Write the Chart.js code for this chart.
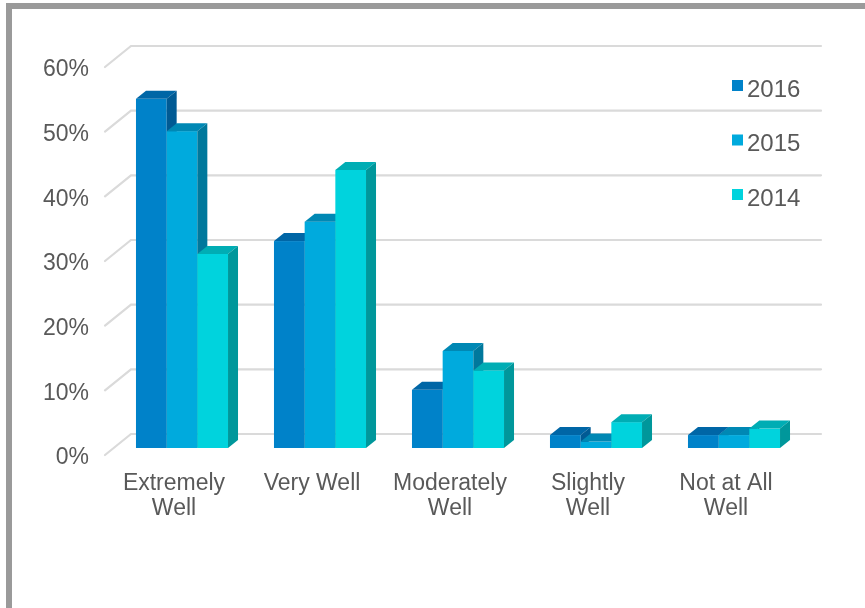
<!DOCTYPE html>
<html>
<head>
<meta charset="utf-8">
<script src="https://cdn.jsdelivr.net/npm/chart.js@4"></script>
<style>
  html, body { margin: 0; padding: 0; background: #fff; }
  #wrap { position: relative; width: 865px; height: 608px; overflow: hidden; }
  #frame {
    position: absolute; left: 6px; top: 3px;
    width: 900px; height: 700px;
    border: 6px solid #9a9a9a; box-sizing: border-box;
  }
  #chart { position: absolute; left: 0; top: 0; }
</style>
</head>
<body>
<div id="wrap">
  <div id="frame"></div>
  <canvas id="chart" width="865" height="608"></canvas>
</div>
<script>
// categorias e séries (percentual)
const categorias = [['Extremely', 'Well'], 'Very Well', ['Moderately', 'Well'], ['Slightly', 'Well'], ['Not at All', 'Well']];
const anos = ['2016', '2015', '2014'];
const valores2016 = [54, 32, 9, 2, 2];
const valores2015 = [49, 35, 15, 1, 2];
const valores2014 = [30, 43, 12, 4, 3];
const ticksY = [0, 10, 20, 30, 40, 50, 60];

// cores: frente, topo, lateral
const cores = [
    { frente: '#0082c9', topo: '#0066a6', lado: '#005a94' },
    { frente: '#00aadd', topo: '#0088b4', lado: '#00789c' },
    { frente: '#00d3dd', topo: '#00adb4', lado: '#00979b' }
];

const fonte = "'Liberation Sans', Arial, sans-serif";
const corTexto = '#595959';

// profundidade do "piso" (parede do fundo) e das barras
const PAREDE = { dx: 26, dy: -21 };
const FRENTE = { dx: 8, dy: -7 };
const BARRA = { dx: 10, dy: -8 };

const plugin3d = {
    id: 'barras3d',
    beforeDatasetsDraw(chart) {
        const ctx = chart.ctx;
        const area = chart.chartArea;
        const y = chart.scales.y;

        // linhas de grade com a diagonal lateral
        ctx.save();
        ctx.strokeStyle = '#dadada';
        ctx.lineWidth = 2.2;
        ctx.lineCap = 'round';
        ticksY.forEach(v => {
            const py = y.getPixelForValue(v);
            ctx.beginPath();
            ctx.moveTo(area.left, py);
            ctx.lineTo(area.left + PAREDE.dx, py + PAREDE.dy);
            ctx.lineTo(area.right + PAREDE.dx, py + PAREDE.dy);
            ctx.stroke();
        });
        ctx.restore();

        // barras: desenhadas por categoria, da esquerda para a direita
        const metas = chart.data.datasets.map((d, i) => chart.getDatasetMeta(i));
        ctx.save();
        for (let c = 0; c < categorias.length; c++) {
            metas.forEach((meta, i) => {
                const el = meta.data[c];
                const x0 = el.x - el.width / 2 + FRENTE.dx;
                const x1 = el.x + el.width / 2 + FRENTE.dx;
                const yt = el.y + FRENTE.dy;
                const yb = el.base + FRENTE.dy;
                const cor = cores[i];

                ctx.fillStyle = cor.frente;
                ctx.fillRect(x0, yt, x1 - x0, yb - yt);

                ctx.fillStyle = cor.topo;
                ctx.beginPath();
                ctx.moveTo(x0, yt);
                ctx.lineTo(x1, yt);
                ctx.lineTo(x1 + BARRA.dx, yt + BARRA.dy);
                ctx.lineTo(x0 + BARRA.dx, yt + BARRA.dy);
                ctx.closePath();
                ctx.fill();

                ctx.fillStyle = cor.lado;
                ctx.beginPath();
                ctx.moveTo(x1, yt);
                ctx.lineTo(x1 + BARRA.dx, yt + BARRA.dy);
                ctx.lineTo(x1 + BARRA.dx, yb + BARRA.dy);
                ctx.lineTo(x1, yb);
                ctx.closePath();
                ctx.fill();
            });
        }
        ctx.restore();
        return false;
    },
    afterDraw(chart) {
        // legenda no canto superior direito
        const ctx = chart.ctx;
        ctx.save();
        ctx.font = '24px ' + fonte;
        ctx.textBaseline = 'middle';
        ctx.textAlign = 'left';
        chart.data.datasets.forEach((d, i) => {
            const topo = 80 + i * 54.5;
            ctx.fillStyle = cores[i].frente;
            ctx.fillRect(732, topo, 11, 11);
            ctx.fillStyle = corTexto;
            ctx.fillText(d.label, 747, topo + 10);
        });
        ctx.restore();
    }
};

new Chart(document.getElementById('chart'), {
    type: 'bar',
    data: {
        labels: categorias,
        datasets: [
            { label: anos[0], data: valores2016, backgroundColor: cores[0].frente },
            { label: anos[1], data: valores2015, backgroundColor: cores[1].frente },
            { label: anos[2], data: valores2014, backgroundColor: cores[2].frente }
        ]
    },
    options: {
        responsive: false,
        animation: false,
        layout: { padding: { top: 67, right: 70, left: 0, bottom: 0 } },
        plugins: {
            legend: { display: false },
            tooltip: { enabled: false }
        },
        datasets: {
            bar: { categoryPercentage: 0.667, barPercentage: 1 }
        },
        scales: {
            x: {
                grid: { display: false },
                border: { display: false },
                ticks: {
                    color: corTexto,
                    font: { family: fonte, size: 23, lineHeight: 1.1 },
                    padding: 8,
                    maxRotation: 0
                },
                afterFit: s => { s.height = 153; }
            },
            y: {
                min: 0,
                max: 60,
                grid: { display: false },
                border: { display: false },
                ticks: {
                    stepSize: 10,
                    color: corTexto,
                    font: { family: fonte, size: 23 },
                    padding: 8,
                    labelOffset: 3,
                    callback: v => v + '%'
                },
                afterFit: s => { s.width = 105; }
            }
        }
    },
    plugins: [plugin3d]
});
</script>
</body>
</html>
